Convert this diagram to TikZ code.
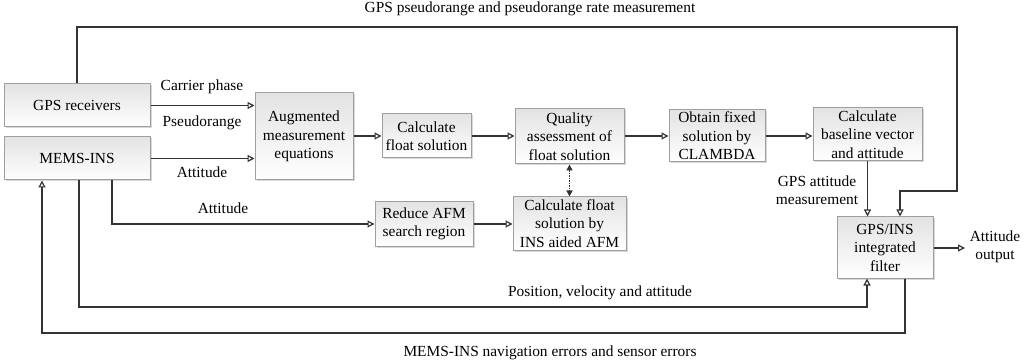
\documentclass[tikz,border=0pt]{standalone}
\usepackage{fontspec}
\setmainfont{Liberation Serif}
\usetikzlibrary{arrows.meta,shadows}
\begin{document}
\begin{tikzpicture}[x=1pt,y=-1pt,
  font=\fontsize{15.4}{18.5}\selectfont,
  box/.style={draw=gray!75, line width=1pt, top color=gray!22, bottom color=white,
    drop shadow={shadow xshift=1.5pt, shadow yshift=-1.5pt, fill=gray!60, opacity=0.5},
    align=center, inner sep=0pt},
  line/.style={draw=black!80, line width=1.7pt},
  arr/.style={line, -{Triangle[open,length=7pt,width=7pt,line width=1.2pt]}},
  lbl/.style={align=center, inner sep=0pt}]
\useasboundingbox (0,0) rectangle (1024,363);
\fill[white] (0,0) rectangle (1024,363);

\node[box, minimum width=146pt, minimum height=43pt] (gps) at (77,105.5) {GPS receivers};
\node[box, minimum width=146pt, minimum height=43pt] (mems) at (77,158.5) {MEMS-INS};
\node[box, minimum width=98pt, minimum height=87pt] (aug) at (304,136.5) {Augmented\\measurement\\equations};
\node[box, minimum width=89pt, minimum height=44pt] (calc) at (426.5,136) {Calculate\\float solution};
\node[box, minimum width=109pt, minimum height=55pt] (qual) at (569.5,136.5) {Quality\\assessment of\\float solution};
\node[box, minimum width=96pt, minimum height=52pt] (obtain) at (717,136) {Obtain fixed\\solution by\\CLAMBDA};
\node[box, minimum width=109pt, minimum height=53pt] (base) at (867.5,134.5) {Calculate\\baseline vector\\and attitude};
\node[box, minimum width=98pt, minimum height=44pt] (reduce) at (424,224) {Reduce AFM\\search region};
\node[box, minimum width=113pt, minimum height=53pt] (calcins) at (569.5,223.5) {Calculate float\\solution by\\INS aided AFM};
\node[box, minimum width=96pt, minimum height=61pt] (filter) at (885,247.5) {GPS/INS\\integrated\\filter};

\coordinate (t1) at (957,27);
\coordinate (t2) at (957,191);
\coordinate (t3) at (900,191);
\coordinate (a1) at (112,224);
\coordinate (p1) at (79,307);
\coordinate (p2) at (867,307);
\coordinate (f1) at (905,333);
\coordinate (f2) at (42,333);
\coordinate (out) at (965,248);

% connectors
\draw[arr] (gps.east) -- (gps.east -| aug.west);
\draw[arr] (mems.east) -- (mems.east -| aug.west);
\draw[arr] (aug.east |- calc.west) -- (calc.west);
\draw[arr] (calc.east) -- (calc.east -| qual.west);
\draw[arr] (qual.east |- obtain.west) -- (obtain.west);
\draw[arr] (obtain.east) -- (obtain.east -| base.west);
\draw[arr] (base.south) -- (base.south |- filter.north);
\draw[arr] (gps.north) |- (t1) -- (t2) -- (t3) -- (t3 |- filter.north);
\draw[line, line width=1.5pt, densely dotted, {Triangle[length=6pt,width=6pt]}-{Triangle[length=6pt,width=6pt]}] (qual.south) -- (calcins.north);
\draw[arr] (mems.south -| a1) -- (a1) -- (a1 -| reduce.west);
\draw[arr] (reduce.east) -- (reduce.east -| calcins.west);
\draw[arr] (mems.south -| p1) -- (p1) -- (p2) -- (p2 |- filter.south);
\draw[arr] (filter.south -| f1) -- (f1) -- (f2) -- (f2 |- mems.south);
\draw[arr] (filter.east |- out) -- (out);

% labels
\node[lbl] (l1) at (202,87) {Carrier phase};
\node[lbl] (l2) at (202,123) {Pseudorange};
\node[lbl] (l3) at (202,172) {Attitude};
\node[lbl] (l4) at (223,208) {Attitude};
\node[lbl] (l5) at (530,9) {GPS pseudorange and pseudorange rate measurement};
\node[lbl] (l6) at (817,190) {GPS attitude\\measurement};
\node[lbl] (l7) at (600,293) {Position, velocity and attitude};
\node[lbl] (l8) at (550,353) {MEMS-INS navigation errors and sensor errors};
\node[lbl] (l9) at (995,247) {Attitude\\output};
\end{tikzpicture}
\end{document}
